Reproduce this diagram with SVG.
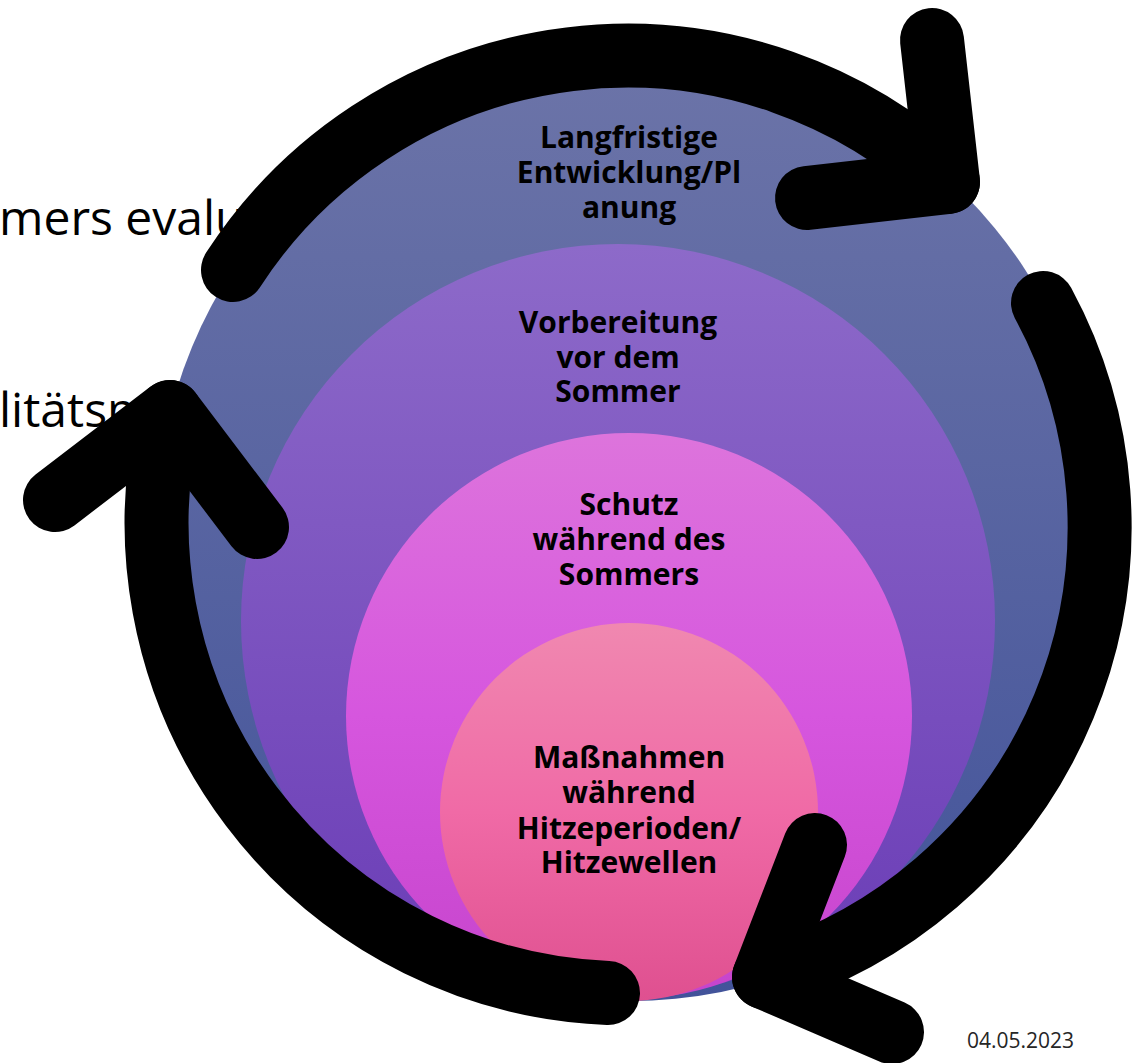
<svg xmlns="http://www.w3.org/2000/svg" width="1141" height="1063" viewBox="0 0 1141 1063">
  <defs>
    <linearGradient id="g1" x1="0" y1="0" x2="0" y2="1">
      <stop offset="0" stop-color="#6c74a8"/>
      <stop offset="1" stop-color="#42539a"/>
    </linearGradient>
    <linearGradient id="g2" x1="0" y1="0" x2="0" y2="1">
      <stop offset="0" stop-color="#8d6ac9"/>
      <stop offset="1" stop-color="#6a3cb6"/>
    </linearGradient>
    <linearGradient id="g3" x1="0" y1="0" x2="0" y2="1">
      <stop offset="0" stop-color="#dd74dc"/>
      <stop offset="0.5" stop-color="#d656de"/>
      <stop offset="1" stop-color="#c644cc"/>
    </linearGradient>
    <linearGradient id="g4" x1="0" y1="0" x2="0" y2="1">
      <stop offset="0" stop-color="#f088b0"/>
      <stop offset="0.5" stop-color="#f06aa6"/>
      <stop offset="1" stop-color="#df5090"/>
    </linearGradient>
  </defs>
  <style>
    .bg { font-family: "Open Sans", "Noto Sans", sans-serif; font-size: 48px; fill: #000; }
    .lbl { font-family: "Open Sans", "Noto Sans", sans-serif; font-size: 30px; font-weight: bold; fill: #000; text-anchor: middle; }
    .date { font-family: "Open Sans", "Noto Sans", sans-serif; font-size: 21px; fill: #262626; }
    .arc { fill: none; stroke: #000; stroke-width: 64; stroke-linecap: round; stroke-linejoin: round; }
  </style>
  <rect width="1141" height="1063" fill="#fff"/>
  <g id="background-text">
    <text class="bg" x="-1" y="235">mers evalu</text>
    <text class="bg" x="-1" y="427">litätsm</text>
  </g>
  <g id="node-1">
    <circle cx="629" cy="528" r="473" fill="url(#g1)"/>
    <text class="lbl" x="629" y="148">Langfristige</text>
    <text class="lbl" x="629" y="183">Entwicklung/Pl</text>
    <text class="lbl" x="629" y="218">anung</text>
  </g>
  <g id="node-2">
    <circle cx="618" cy="621" r="377" fill="url(#g2)"/>
    <text class="lbl" x="618" y="333">Vorbereitung</text>
    <text class="lbl" x="618" y="368">vor dem</text>
    <text class="lbl" x="618" y="402">Sommer</text>
  </g>
  <g id="node-3">
    <circle cx="629" cy="716" r="283" fill="url(#g3)"/>
    <text class="lbl" x="629" y="515">Schutz</text>
    <text class="lbl" x="629" y="550">während des</text>
    <text class="lbl" x="629" y="585">Sommers</text>
  </g>
  <g id="node-4">
    <circle cx="629" cy="812" r="189" fill="url(#g4)"/>
    <text class="lbl" x="629" y="768">Maßnahmen</text>
    <text class="lbl" x="629" y="803">während</text>
    <text class="lbl" x="629" y="839">Hitzeperioden/</text>
    <text class="lbl" x="629" y="873">Hitzewellen</text>
  </g>
  <g id="connectors">
    <path class="arc" d="M233,270 A470,470 0 0 1 948,182"/>
    <path class="arc" d="M932,40 L948,182 L807,198"/>
    <path class="arc" d="M1043,303 A470,470 0 0 1 764,977"/>
    <path class="arc" d="M815,845 L764,977 L892,1032"/>
    <path class="arc" d="M608,993 A470,470 0 0 1 170,412"/>
    <path class="arc" d="M55,500 L170,412 L257,527"/>
  </g>
  <text class="date" x="967" y="1048">04.05.2023</text>
</svg>
